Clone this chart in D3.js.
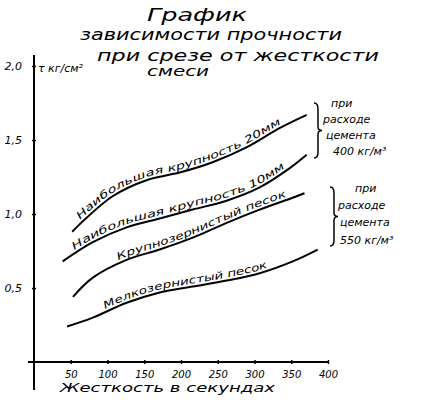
<!DOCTYPE html>
<html><head><meta charset="utf-8">
<script src="https://cdn.jsdelivr.net/npm/d3@7"></script>
<style>
body{margin:0;background:#fff;}
text{font-family:"DejaVu Sans",sans-serif;font-style:italic;fill:#000;}
</style></head>
<body><svg id="c" width="421" height="402"></svg>
<script>
const titleLines = ["График", "зависимости прочности", "при срезе от жесткости", "смеси"];
const yLabel = "τ кг/см²";
const xLabel = "Жесткость в секундах";
const xTicks = [50, 100, 150, 200, 250, 300, 350, 400];
const xTickLabels = ["50", "100", "150", "200", "250", "300", "350", "400"];
const yTicks = [0.5, 1.0, 1.5, 2.0];
const yTickLabels = ["0,5", "1,0", "1,5", "2,0"];

const seriesNames = ["Наибольшая крупность 20мм", "Наибольшая крупность  10мм", "Крупнозернистый песок", "Мелкозернистый песок"];
const xs20 = [52, 62, 107, 154, 198, 243, 289, 334, 371];
const ys20 = [0.88, 0.93, 1.12, 1.23, 1.28, 1.35, 1.45, 1.58, 1.67];
const xs10 = [39, 80, 126, 171, 216, 262, 307, 348, 371];
const ys10 = [0.68, 0.81, 0.91, 0.97, 1.03, 1.09, 1.18, 1.31, 1.40];
const xsCoarse = [53, 80, 126, 171, 216, 262, 307, 352, 368];
const ysCoarse = [0.44, 0.57, 0.69, 0.76, 0.84, 0.94, 1.03, 1.11, 1.14];
const xsFine = [45, 80, 126, 171, 216, 262, 307, 352, 386];
const ysFine = [0.24, 0.30, 0.40, 0.47, 0.51, 0.55, 0.60, 0.68, 0.76];
const notes = [["при", "расходе", "цемента", "400 кг/м³"], ["при", "расходе", "цемента", "550 кг/м³"]];

const svg = d3.select("#c");
const x = d3.scaleLinear().domain([0, 400]).range([34, 328]);
const y = d3.scaleLinear().domain([0, 2.0]).range([362, 66]);

// title
const tpos = [[197, 21, 17, 100], [211, 40, 15, 262], [238, 61, 15, 282], [178, 76, 14, 62]];
titleLines.forEach((t, i) => {
  svg.append("text").attr("x", tpos[i][0]).attr("y", tpos[i][1]).attr("text-anchor", "middle")
    .style("font-size", tpos[i][2] + "px")
    .attr("textLength", tpos[i][3]).attr("lengthAdjust", "spacingAndGlyphs").text(t);
});

// axes
const gx = svg.append("g").attr("transform", "translate(0,362)")
  .call(d3.axisBottom(x).tickValues(xTicks).tickFormat((d, i) => xTickLabels[i]).tickSize(3).tickPadding(6));
gx.select(".domain").attr("d", "M28,0H329").attr("stroke", "#000").attr("stroke-width", 2);
gx.selectAll(".tick line").attr("y1", -2).attr("y2", 2).attr("stroke-width", 1.5);
gx.selectAll(".tick text").style("font-size", "10px").style("font-family", "DejaVu Sans").style("font-style", "italic");

const gy = svg.append("g").attr("transform", "translate(34,0)")
  .call(d3.axisLeft(y).tickValues(yTicks).tickFormat((d, i) => yTickLabels[i]).tickSize(3).tickPadding(9));
gy.select(".domain").attr("d", "M0,55V390").attr("stroke", "#000").attr("stroke-width", 2);
gy.selectAll(".tick line").attr("x1", -2).attr("x2", 2).attr("stroke-width", 1.5);
gy.selectAll(".tick text").style("font-size", "11px").style("font-family", "DejaVu Sans").style("font-style", "italic");

svg.append("text").attr("x", 38).attr("y", 72).style("font-size", "11px").text(yLabel);
svg.append("text").attr("x", 60).attr("y", 392).attr("textLength", 215).attr("lengthAdjust", "spacingAndGlyphs")
  .style("font-size", "12px").text(xLabel);

// curves
const line = d3.line().x(d => x(d[0])).y(d => y(d[1])).curve(d3.curveCatmullRom.alpha(0.5));
const series = [[xs20, ys20], [xs10, ys10], [xsCoarse, ysCoarse], [xsFine, ysFine]];
const labelOffsets = [[14, 225], [16, 228], [58, 180], [42, 168]];
series.forEach((s, i) => {
  const pts = s[0].map((v, j) => [v, s[1][j]]);
  svg.append("path").attr("id", "p" + i).attr("d", line(pts))
    .attr("fill", "none").attr("stroke", "#000").attr("stroke-width", 2);
  svg.append("text").attr("dy", -3).style("font-size", "10px")
    .append("textPath").attr("href", "#p" + i).attr("startOffset", labelOffsets[i][0])
    .attr("textLength", labelOffsets[i][1]).attr("lengthAdjust", "spacingAndGlyphs")
    .text(seriesNames[i]);
});

// braces + notes
function brace(xb, y0, y1) {
  const m = (y0 + y1) / 2;
  return `M${xb - 4},${y0} Q${xb},${y0} ${xb},${y0 + 6} L${xb},${m - 4} Q${xb},${m} ${xb + 4},${m} Q${xb},${m} ${xb},${m + 4} L${xb},${y1 - 6} Q${xb},${y1} ${xb - 4},${y1}`;
}
const blocks = [{bx: 318, y0: 103, y1: 158, lines: [[331, 107], [323, 123], [326, 139], [333, 155]]},
                {bx: 334, y0: 187, y1: 246, lines: [[355, 192], [338, 209], [340, 226], [340, 244]]}];
blocks.forEach((b, i) => {
  svg.append("path").attr("d", brace(b.bx, b.y0, b.y1)).attr("fill", "none").attr("stroke", "#000").attr("stroke-width", 1.5);
  notes[i].forEach((t, j) => {
    svg.append("text").attr("x", b.lines[j][0]).attr("y", b.lines[j][1]).style("font-size", "11px").text(t);
  });
});
</script></body></html>
